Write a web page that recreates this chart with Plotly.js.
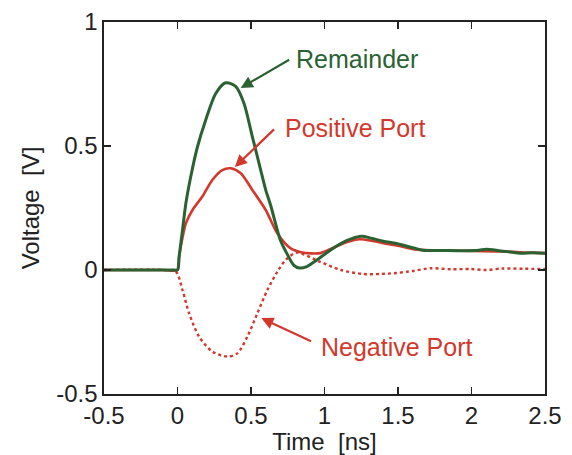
<!DOCTYPE html>
<html>
<head>
<meta charset="utf-8">
<script src="https://cdn.plot.ly/plotly-3.0.1.min.js"></script>
<style>
  html, body { margin: 0; padding: 0; background: #fff; }
  #chart { width: 572px; height: 455px; }
</style>
</head>
<body>
<div id="chart"></div>
<script>
// Port voltages after the step edge (time in ns, voltage in V)
const tRemainder = [-0.5, -0.3, -0.1, -0.02, 0.0, 0.011, 0.034, 0.057, 0.09, 0.136, 0.192, 0.26, 0.328, 0.396, 0.452, 0.509, 0.566, 0.6, 0.634, 0.7, 0.75, 0.79, 0.83, 0.88, 0.93, 1.04, 1.15, 1.25, 1.32, 1.4, 1.49, 1.6, 1.67, 1.8, 1.95, 2.05, 2.1, 2.2, 2.33, 2.42, 2.5];
const vRemainder = [0, 0, 0, 0, 0.0, 0.054, 0.161, 0.269, 0.376, 0.497, 0.605, 0.712, 0.755, 0.74, 0.672, 0.538, 0.403, 0.323, 0.26, 0.12, 0.06, 0.02, 0.008, 0.014, 0.033, 0.08, 0.118, 0.136, 0.128, 0.116, 0.107, 0.09, 0.08, 0.079, 0.078, 0.08, 0.084, 0.077, 0.068, 0.07, 0.068];

const tPositive = [-0.5, -0.1, 0.0, 0.011, 0.034, 0.057, 0.102, 0.169, 0.237, 0.305, 0.362, 0.43, 0.509, 0.6, 0.679, 0.77, 0.84, 0.905, 0.97, 1.06, 1.15, 1.24, 1.32, 1.4, 1.5, 1.63, 1.8, 2.0, 2.2, 2.4, 2.5];
const vPositive = [0, 0, 0.0, 0.054, 0.13, 0.188, 0.242, 0.296, 0.363, 0.403, 0.41, 0.39, 0.323, 0.242, 0.148, 0.087, 0.072, 0.067, 0.068, 0.09, 0.112, 0.124, 0.118, 0.108, 0.098, 0.082, 0.078, 0.077, 0.075, 0.07, 0.068];

const tNegative = [-0.5, -0.1, -0.011, 0.034, 0.079, 0.147, 0.237, 0.339, 0.407, 0.475, 0.543, 0.611, 0.679, 0.735, 0.81, 0.97, 1.11, 1.26, 1.38, 1.49, 1.6, 1.72, 1.86, 1.99, 2.1, 2.21, 2.35, 2.5];
const vNegative = [0, 0, -0.007, -0.081, -0.175, -0.269, -0.329, -0.349, -0.336, -0.269, -0.175, -0.081, -0.007, 0.04, 0.07, 0.033, 0.0, -0.016, -0.016, -0.012, -0.004, 0.007, 0.003, 0.004, 0.0, 0.006, 0.005, 0.004];

const seriesNames = ['Remainder', 'Positive Port', 'Negative Port'];
const xTicks = [-0.5, 0, 0.5, 1, 1.5, 2, 2.5];
const yTicks = [-0.5, 0, 0.5, 1];

const GREEN = '#2a6232';
const RED = '#d2382c';
const FONT = 'Liberation Sans, Arial, sans-serif';

const traces = [
  { x: tPositive, y: vPositive, name: seriesNames[1], mode: 'lines',
    line: { color: RED, width: 2.6, shape: 'spline', smoothing: 0.8 } },
  { x: tNegative, y: vNegative, name: seriesNames[2], mode: 'lines',
    line: { color: RED, width: 2.4, dash: 'dot', shape: 'spline', smoothing: 0.8 } },
  { x: tRemainder, y: vRemainder, name: seriesNames[0], mode: 'lines',
    line: { color: GREEN, width: 3, shape: 'spline', smoothing: 0.8 } }
];

// labels with arrows pointing to the curves
function arrow(x, y, ax, ay, color) {
  return { x: x, y: y, ax: ax, ay: ay, xref: 'x', yref: 'y', axref: 'x', ayref: 'y',
    text: '', showarrow: true, arrowhead: 2, arrowsize: 1.1, arrowwidth: 2.2, arrowcolor: color };
}
function label(x, y, text, color) {
  return { x: x, y: y, xref: 'x', yref: 'y', text: text, showarrow: false,
    xanchor: 'left', yanchor: 'middle', font: { family: FONT, size: 25, color: color } };
}

const annotations = [
  arrow(0.43, 0.734, 0.77, 0.851, GREEN),
  label(0.79, 0.85, seriesNames[0], GREEN),
  arrow(0.39, 0.415, 0.667, 0.573, RED),
  label(0.715, 0.573, seriesNames[1], RED),
  arrow(0.57, -0.194, 0.919, -0.29, RED),
  label(0.96, -0.31, seriesNames[2], RED)
];

const axisCommon = {
  showline: true, mirror: 'ticks', linecolor: '#222', linewidth: 1.6,
  ticks: 'inside', ticklen: 7, tickwidth: 1.4, tickcolor: '#222',
  showgrid: false, zeroline: false,
  tickfont: { family: FONT, size: 24, color: '#222' }
};

const layout = {
  width: 572, height: 455,
  margin: { l: 104, r: 27, t: 22, b: 61 },
  paper_bgcolor: '#fff', plot_bgcolor: '#fff',
  showlegend: false,
  xaxis: Object.assign({}, axisCommon, {
    range: [-0.5, 2.5], tickvals: xTicks, ticktext: xTicks.map(String),
    title: { text: 'Time\u00a0\u00a0[ns]', font: { family: FONT, size: 24, color: '#222' }, standoff: 0 }
  }),
  yaxis: Object.assign({}, axisCommon, {
    range: [-0.5, 1], tickvals: yTicks, ticktext: yTicks.map(String),
    title: { text: 'Voltage\u00a0\u00a0[V]', font: { family: FONT, size: 24, color: '#222' }, standoff: 10 }
  }),
  annotations: annotations
};

Plotly.newPlot('chart', traces, layout, { staticPlot: true, displayModeBar: false });
</script>
</body>
</html>
